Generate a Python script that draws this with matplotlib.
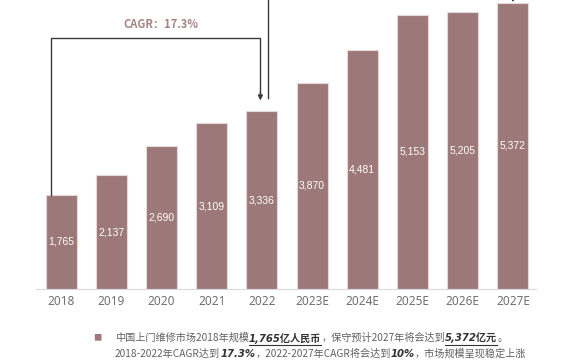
import matplotlib
matplotlib.use("Agg")
import matplotlib.pyplot as plt
from matplotlib.lines import Line2D

plt.rcParams['font.family'] = ['Noto Sans CJK SC', 'DejaVu Sans']

# Data
years = ["2018", "2019", "2020", "2021", "2022", "2023E", "2024E", "2025E", "2026E", "2027E"]
market = [1765, 2137, 2690, 3109, 3336, 3870, 4481, 5153, 5205, 5372]
cagr_label = "CAGR：17.3%"

# note lines: (text, emphasised)
note_line1 = [("中国上门维修市场2018年规模", False), ("1,765亿人民币", True),
              ("，保守预计2027年将会达到", False), ("5,372亿元", True), ("。", False)]
note_line2 = [("2018-2022年CAGR达到", False), ("17.3%", True),
              ("，2022-2027年CAGR将会达到", False), ("10%", True),
              ("，市场规模呈现稳定上涨", False)]

bar_color = "#9d7878"
W, H = 570, 360

fig = plt.figure(figsize=(W / 100, H / 100), dpi=100)
ax = fig.add_axes([36 / W, 71 / H, 500 / W, 289 / H])

x = list(range(len(years)))
ax.bar(x, market, width=0.62, color=bar_color, edgecolor="#e6d8d8", linewidth=0.8)
for xi, v in zip(x, market):
    ax.text(xi, v / 2, f"{v:,}", ha="center", va="center", color="white",
            fontsize=7.5, family=["Liberation Sans"])

ax.set_xlim(-0.5, 9.46)
ax.set_ylim(0, 5426)
ax.set_xticks(x)
ax.set_xticklabels(years, fontsize=8.5, color="#707070", family=["Noto Sans"])
ax.tick_params(axis="x", length=0, pad=4)
ax.set_yticks([])
for s in ["left", "right", "top"]:
    ax.spines[s].set_visible(False)
ax.spines["bottom"].set_color("#d9d9d9")

arrow_kw = dict(arrowstyle="-|>", color="#3a3a3a", lw=1.0, shrinkA=0, shrinkB=0,
                mutation_scale=7)
line_kw = dict(color="#3a3a3a", lw=1.0)

# CAGR bracket 2018 -> 2022
ax.plot([-0.2, -0.2, 3.97, 3.97], [1765, 4713, 4713, 3640], **line_kw, clip_on=False)
ax.annotate("", xy=(3.97, 3540), xytext=(3.97, 3700), arrowprops=arrow_kw)
ax.text(1.98, 4976, cagr_label, ha="center", va="center", color="#a88585",
        fontsize=8, fontweight="bold")

# second bracket 2022 -> 2027 (mostly off the top)
ax.plot([4.13, 4.13, 9.0, 9.0], [3586, 6000, 6000, 5450], **line_kw, clip_on=False)
ax.annotate("", xy=(9.0, 5385), xytext=(9.0, 5600), arrowprops=arrow_kw,
            annotation_clip=False)

# note text with emphasised pieces
fig.text(97 / W, 1 - 338 / H, "■", fontsize=6, color=bar_color, ha="center", va="center")
renderer = fig.canvas.get_renderer()


def rich_line(x0, y0, pieces):
    xp = x0
    for txt, emph in pieces:
        if emph:
            t = fig.text(xp / W, 1 - y0 / H, txt, fontsize=7.3, color="#333333",
                         fontweight="bold", fontstyle="italic", va="center",
                         family=["DejaVu Sans", "Noto Sans CJK SC"])
        else:
            t = fig.text(xp / W, 1 - y0 / H, txt, fontsize=7.3, color="#606060", va="center")
        bb = t.get_window_extent(renderer)
        if emph:
            fig.add_artist(Line2D([xp / W, (xp + bb.width) / W],
                                  [1 - (y0 + 6.5) / H, 1 - (y0 + 6.5) / H],
                                  color="#333333", lw=0.8))
        xp += bb.width


rich_line(115, 338, note_line1)
rich_line(115, 354, note_line2)

fig.savefig("out.png", dpi=100)
